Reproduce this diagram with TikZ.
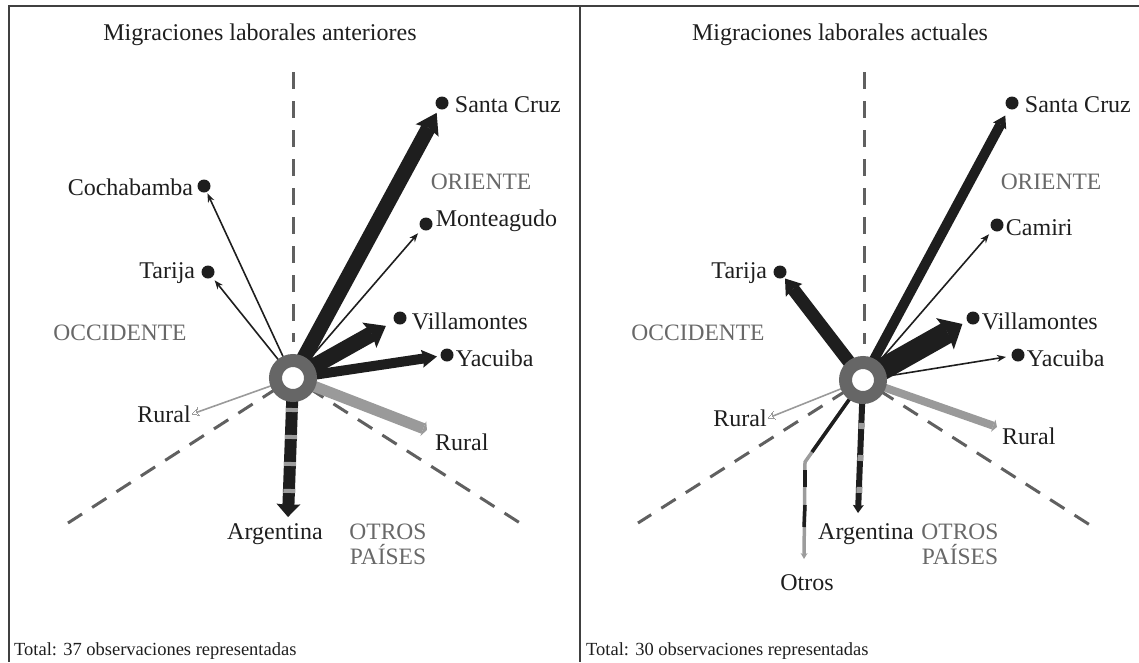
\documentclass[tikz,border=0pt]{standalone}
\usepackage{fontspec}
\setmainfont{Liberation Serif}
\usetikzlibrary{arrows.meta}
\definecolor{ink}{HTML}{1E1E1E}
\definecolor{ringc}{HTML}{666666}
\definecolor{axisc}{HTML}{606060}
\definecolor{regc}{HTML}{686868}
\definecolor{rurc}{HTML}{9A9A9A}
\definecolor{stripec}{HTML}{9C9C9C}
\definecolor{framec}{HTML}{404040}
\begin{document}
\begin{tikzpicture}[x=1pt,y=-1pt,
  frameline/.style={draw=framec, line width=2pt},
  axisline/.style={draw=axisc, line width=3pt, dash pattern=on 17pt off 12pt},
  lbl/.style={font=\fontsize{24}{28}\selectfont, text=ink, inner sep=1pt},
  ttl/.style={font=\fontsize{24}{28}\selectfont, text=ink, inner sep=0pt},
  tot/.style={font=\fontsize{18.5}{22}\selectfont, text=ink, inner sep=0pt},
  region/.style={font=\fontsize{23.5}{25}\selectfont, text=regc, align=center, inner sep=0pt},
  dotnode/.style={circle, fill=ink, minimum size=13pt, inner sep=0pt},
  ringnode/.style={circle, fill=white, draw=ringc, line width=13pt, minimum size=35pt, inner sep=0pt},
  thinarrow/.style={draw=ink, line width=1.6pt, -{Stealth[length=9pt,width=7pt,line width=0pt]}},
  fatarrow/.style n args={4}{draw=ink, line width=#1, line cap=butt, -{Stealth[length=#2,width=#3,inset=#4,line width=0pt]}},
  rurthin/.style={draw=rurc, line width=1.6pt, -{Stealth[length=7pt,width=8pt,line width=0pt,open]}},
  rurfat/.style n args={2}{draw=rurc, line width=#1, -{Triangle[length=4pt,width=#2,line width=0pt]}},
  stripes/.style n args={3}{draw=stripec, line width=#1, dash pattern=on #2 off #3},
  otrosbar/.style={draw=ink, line width=3.5pt},
]
\useasboundingbox (0,0) rectangle (1139,662);

% frame
\draw[frameline] (1139,6) -- (9,6) -- (9,662);
\draw[frameline] (580,6) -- (580,662);

% titles and totals
\node[ttl, anchor=base] (t1) at (260,40) {Migraciones laborales anteriores};
\node[ttl, anchor=base] (t2) at (840,40) {Migraciones laborales actuales};
\node[tot, anchor=base west] (tot1) at (14,655) {Total: 37 observaciones representadas};
\node[tot, anchor=base west] (tot2) at (586,655) {Total: 30 observaciones representadas};

% ================= LEFT PANEL =================
\coordinate (L) at (293,378);
\coordinate (Ltop) at (293,72);
\coordinate (Lbot) at (293,342);
\coordinate (Ldl) at (68,523);
\coordinate (Ldr) at (520,523);
\draw[axisline] (Ltop) -- (Lbot);
\draw[axisline, dash phase=10pt] (L) -- (Ldl);
\draw[axisline, dash phase=10pt] (L) -- (Ldr);

\node[region] (oriL) at (481,182) {ORIENTE};
\node[region] (occL) at (120,333) {OCCIDENTE};
\node[region] (otrL) at (388,544) {OTROS\\PAÍSES};

\node[dotnode] (dSCL) at (442,103) {};
\node[lbl, anchor=west] (nSCL) at ([xshift=5pt,yshift=-2pt]dSCL.east) {Santa Cruz};
\node[dotnode] (dCoL) at (204,186) {};
\node[lbl, anchor=east] (nCoL) at ([xshift=-3pt,yshift=-1pt]dCoL.west) {Cochabamba};
\node[dotnode] (dMoL) at (426,224) {};
\node[lbl, anchor=west] (nMoL) at ([xshift=2pt,yshift=3pt]dMoL.east) {Monteagudo};
\node[dotnode] (dTaL) at (208,272) {};
\node[lbl, anchor=east] (nTaL) at ([xshift=-5pt,yshift=-1pt]dTaL.west) {Tarija};
\node[dotnode] (dViL) at (400,318) {};
\node[lbl, anchor=west] (nViL) at ([xshift=4pt,yshift=-3pt]dViL.east) {Villamontes};
\node[dotnode] (dYaL) at (447,355) {};
\node[lbl, anchor=west] (nYaL) at ([xshift=1pt,yshift=-3pt]dYaL.east) {Yacuiba};

\node[lbl, anchor=east] (rLl) at (192,414) {Rural};
\node[lbl, anchor=west] (rLr) at (434,442) {Rural};
\coordinate (rLrt) at (427,430);
\node[lbl] (argL) at (275,534) {Argentina};
\coordinate (argLt) at (288,517);
\coordinate (argLs) at (289,500);

\draw[thinarrow, shorten >=1.5pt] (L) -- (dCoL);
\draw[thinarrow, shorten >=4pt] (L) -- (dTaL);
\draw[thinarrow, shorten >=5.5pt] (L) -- (dMoL);
\draw[fatarrow={15pt}{20pt}{26pt}{3pt}, shorten >=4.5pt] (L) -- (dSCL);
\draw[fatarrow={16pt}{19pt}{29pt}{3pt}, shorten >=9.5pt] (L) -- (dViL);
\draw[fatarrow={10pt}{15pt}{18pt}{2pt}, shorten >=3.5pt] (L) -- (dYaL);
\draw[rurthin] (L) -- (rLl.east);
\draw[rurfat={11pt}{16pt}] (L) -- (rLrt);
\draw[fatarrow={12pt}{13pt}{24pt}{1pt}] (L) -- (argLt);
\draw[stripes={12pt}{4pt}{23pt}, dash phase=24pt] (L) -- (argLs);

\node[ringnode] (ringL) at (L) {};

% ================= RIGHT PANEL =================
\coordinate (R) at (863,380);
\coordinate (Rtop) at (864,72);
\coordinate (Rbot) at (864,344);
\coordinate (Rdl) at (638,523);
\coordinate (Rdr) at (1090,525);
\draw[axisline] (Rtop) -- (Rbot);
\draw[axisline, dash phase=10pt] (R) -- (Rdl);
\draw[axisline, dash phase=10pt] (R) -- (Rdr);

\node[region] (oriR) at (1051,182) {ORIENTE};
\node[region] (occR) at (698,333) {OCCIDENTE};
\node[region] (otrR) at (960,544) {OTROS\\PAÍSES};

\node[dotnode] (dSCR) at (1012,103) {};
\node[lbl, anchor=west] (nSCR) at ([xshift=5pt,yshift=-2pt]dSCR.east) {Santa Cruz};
\node[dotnode] (dCaR) at (997,225) {};
\node[lbl, anchor=west] (nCaR) at ([xshift=1pt,yshift=-3pt]dCaR.east) {Camiri};
\node[dotnode] (dTaR) at (780,272) {};
\node[lbl, anchor=east] (nTaR) at ([xshift=-5pt,yshift=-1pt]dTaR.west) {Tarija};
\node[dotnode] (dViR) at (973,318) {};
\node[lbl, anchor=west] (nViR) at ([xshift=1pt,yshift=-3pt]dViR.east) {Villamontes};
\node[dotnode] (dYaR) at (1018,355) {};
\node[lbl, anchor=west] (nYaR) at ([xshift=1pt,yshift=-3pt]dYaR.east) {Yacuiba};

\node[lbl, anchor=east] (rRl) at (768,418) {Rural};
\node[lbl, anchor=west] (rRr) at (1001,436) {Rural};
\coordinate (rRrt) at (997,427);
\node[lbl] (argR) at (866,534) {Argentina};
\coordinate (argRt) at (858,513);
\coordinate (argRs) at (859,503);
\node[lbl] (otrosR) at (807,583) {Otros};
\coordinate (oK) at (805,462);
\coordinate (oK1) at (812,452);
\coordinate (oT) at (804,559);
\coordinate (oB1) at (805,470);
\coordinate (oB2) at (805,487);
\coordinate (oB3) at (805,505);
\coordinate (oB4) at (804,527);

\draw[thinarrow, shorten >=5.5pt] (R) -- (dCaR);
\draw[thinarrow, shorten >=5.5pt] (R) -- (dYaR);
\draw[fatarrow={10pt}{12pt}{15pt}{2pt}, shorten >=7.5pt] (R) -- (dSCR);
\draw[fatarrow={13pt}{15pt}{21pt}{2pt}, shorten >=1.5pt] (R) -- (dTaR);
\draw[fatarrow={22pt}{20pt}{36pt}{3pt}, shorten >=5.5pt] (R) -- (dViR);
\draw[rurthin] (R) -- (rRl.east);
\draw[rurfat={8pt}{13pt}] (R) -- (rRrt);
\draw[fatarrow={6pt}{8pt}{11pt}{1pt}] (R) -- (argRt);
\draw[stripes={6pt}{6pt}{26pt}, dash phase=21pt] (R) -- (argRs);
\draw[draw=stripec, line width=3.5pt, line join=miter, -{Stealth[length=6pt,width=7pt,line width=0pt]}] (R) -- (oK) -- (oT);
\draw[otrosbar] (R) -- (oK1);
\draw[otrosbar] (oB1) -- (oB2);
\draw[otrosbar] (oB3) -- (oB4);

\node[ringnode] (ringR) at (R) {};
\end{tikzpicture}
\end{document}
